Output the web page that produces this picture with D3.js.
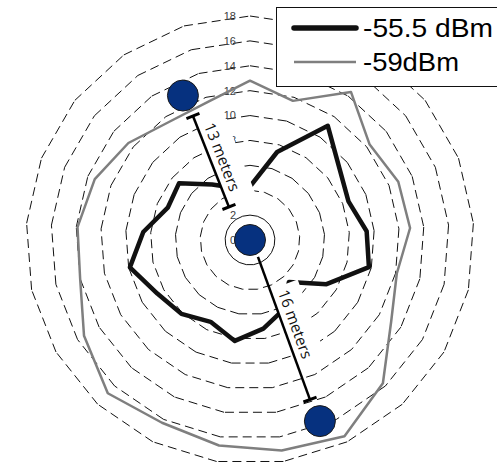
<!DOCTYPE html>
<html>
<head>
<meta charset="utf-8">
<script src="https://cdn.jsdelivr.net/npm/d3@7"></script>
<style>
  html, body { margin: 0; padding: 0; background: #fff; }
  svg { display: block; }
</style>
</head>
<body>
<svg id="chart" width="497" height="463"></svg>
<script>
/* ======================== DATA ========================= */
/* ======================================================= */

// 21 directions, index 0 straight up, going clockwise
const strong = [4.3, 7.4, 11.1, 9.2, 8.5, 9.4, 9.8, 7.1, 4.6, 6.2, 7.2,
                8.2, 7.3, 8.1, 8.6, 9.9, 8.6, 7.1, 7.3, 5.4, 4.4];
const weak   = [12.8, 11.7, 14.4, 12.3, 12.8, 12.9, 12.1, 13.1, 15.7, 17.5, 17.1,
                16.7, 16.3, 16.8, 15.4, 14.0, 13.9, 13.4, 12.5, 11.5, 11.6];

const seriesNames = ["-55.5 dBm", "-59dBm"];
const ringValues  = [2, 4, 6, 8, 10, 12, 14, 16, 18];
const tickLabels  = [0, 2, 4, 6, 8, 10, 12, 14, 16, 18];

// access points: [value, angle in degrees]
const nodes = [[0, 0], [12.8, 335.1], [15.6, 158.9]];

// distance markers: start [value, deg], end [value, deg], label
const rulers = [
    { from: [10.97, 335.3], to: [3.15, 327.5], label: "13 meters", capFrom: true },
    { from: [1.5, 154.8],   to: [13.7, 159.4], label: "16 meters", capFrom: false }
];

/* ======================= SETUP ========================= */
/* ======================================================= */

const svg = d3.select("#chart");
const cx = 250, cy = 240;
const nAxes = strong.length;

const r = d3.scaleLinear().domain([0, 18]).range([0, 224]);
const angle = d3.scaleLinear().domain([0, nAxes]).range([0, 2 * Math.PI]);

const plot = svg.append("g").attr("transform", `translate(${cx},${cy})`);

function polar(v, rad) {
    return [r(v) * Math.sin(rad), -r(v) * Math.cos(rad)];
}
function polarDeg(p) {
    return polar(p[0], p[1] * Math.PI / 180);
}

/* ===================== GRID RINGS ====================== */

// each side is its own dashed segment so the dash restarts at every corner
const ringSides = [];
ringValues.forEach(v => {
    d3.range(nAxes).forEach(i => {
        ringSides.push({ v: v, a0: angle(i), a1: angle(i + 1) });
    });
});

plot.append("g")
    .attr("id", "rings")
    .selectAll("line")
    .data(ringSides)
    .join("line")
    .attr("x1", d => polar(d.v, d.a0)[0])
    .attr("y1", d => polar(d.v, d.a0)[1])
    .attr("x2", d => polar(d.v, d.a1)[0])
    .attr("y2", d => polar(d.v, d.a1)[1])
    .attr("stroke", "#111")
    .attr("stroke-width", 1)
    .attr("stroke-dasharray", "9,5")
    .attr("fill", "none");

plot.append("g")
    .attr("id", "tickLabels")
    .selectAll("text")
    .data(tickLabels)
    .join("text")
    .attr("x", -14)
    .attr("y", d => -r(d))
    .attr("dy", "0.35em")
    .attr("text-anchor", "end")
    .attr("font-family", "Liberation Sans, Arial, sans-serif")
    .attr("font-size", 11)
    .attr("fill", "#404040")
    .text(d => d);

/* ====================== SERIES ========================= */

const radial = d3.lineRadial()
                 .angle((d, i) => angle(i))
                 .radius(d => r(d))
                 .curve(d3.curveLinearClosed);

plot.append("path")
    .datum(strong)
    .attr("d", radial)
    .attr("fill", "none")
    .attr("stroke", "#111")
    .attr("stroke-width", 4.5)
    .attr("stroke-linejoin", "round");

plot.append("path")
    .datum(weak)
    .attr("d", radial)
    .attr("fill", "none")
    .attr("stroke", "#7f7f7f")
    .attr("stroke-width", 2.5)
    .attr("stroke-linejoin", "round");

/* ==================== ANNOTATIONS ====================== */

const rulerView = plot.append("g").attr("id", "rulers");

rulers.forEach(d => {
    const p0 = polarDeg(d.from), p1 = polarDeg(d.to);
    const dx = p1[0] - p0[0], dy = p1[1] - p0[1];
    const len = Math.hypot(dx, dy);
    const ux = dx / len, uy = dy / len;
    const rot = Math.atan2(dy, dx) * 180 / Math.PI;
    const mid = [(p0[0] + p1[0]) / 2, (p0[1] + p1[1]) / 2];
    // text sits on the right-hand side of the line (upwards in text space)
    const off = 12;
    const tx = mid[0] + uy * off, ty = mid[1] - ux * off;

    const lbl = rulerView.append("g")
                         .attr("transform", `translate(${tx},${ty}) rotate(${rot})`);
    lbl.append("rect")
       .attr("x", -41).attr("y", -17.5)
       .attr("width", 88).attr("height", 29.5)
       .attr("fill", "#fff");
    lbl.append("text")
       .attr("text-anchor", "middle")
       .attr("dy", "0.35em")
       .attr("font-family", "Open Sans, sans-serif")
       .attr("font-size", 15.5)
       .attr("fill", "#111")
       .attr("textLength", 72)
       .attr("lengthAdjust", "spacingAndGlyphs")
       .text(d.label);

    rulerView.append("line")
             .attr("x1", p0[0]).attr("y1", p0[1])
             .attr("x2", p1[0]).attr("y2", p1[1])
             .attr("stroke", "#000")
             .attr("stroke-width", 2.5);

    const caps = d.capFrom ? [p0, p1] : [p1];
    caps.forEach(c => {
        rulerView.append("line")
                 .attr("x1", c[0] - uy * 7).attr("y1", c[1] + ux * 7)
                 .attr("x2", c[0] + uy * 7).attr("y2", c[1] - ux * 7)
                 .attr("stroke", "#000")
                 .attr("stroke-width", 3);
    });
});

plot.append("g")
    .attr("id", "nodes")
    .selectAll("circle")
    .data(nodes)
    .join("circle")
    .attr("cx", d => polarDeg(d)[0])
    .attr("cy", d => polarDeg(d)[1])
    .attr("r", 15.5)
    .attr("fill", "#06317f")
    .attr("stroke", "#1a1a1a")
    .attr("stroke-width", 1);

/* ====================== LEGEND ========================= */

const legend = svg.append("g").attr("id", "legend");
legend.append("rect")
      .attr("x", 276.5).attr("y", 7.5)
      .attr("width", 240).attr("height", 79)
      .attr("fill", "#fff")
      .attr("stroke", "#111")
      .attr("stroke-width", 1);

const legendStyle = [
    { color: "#111", width: 5.5, y: 28, textW: 130 },
    { color: "#7f7f7f", width: 2.5, y: 62, textW: 96 }
];

legend.selectAll("line")
      .data(legendStyle)
      .join("line")
      .attr("x1", 294).attr("x2", 356)
      .attr("y1", d => d.y).attr("y2", d => d.y)
      .attr("stroke", d => d.color)
      .attr("stroke-width", d => d.width)
      .attr("stroke-linecap", (d, i) => i === 0 ? "round" : "butt");

legend.selectAll("text")
      .data(legendStyle)
      .join("text")
      .attr("x", 363)
      .attr("y", d => d.y + 8.5)
      .attr("font-family", "Liberation Sans, Arial, sans-serif")
      .attr("font-size", 25)
      .attr("fill", "#000")
      .attr("textLength", d => d.textW)
      .attr("lengthAdjust", "spacingAndGlyphs")
      .text((d, i) => seriesNames[i]);
</script>
</body>
</html>
